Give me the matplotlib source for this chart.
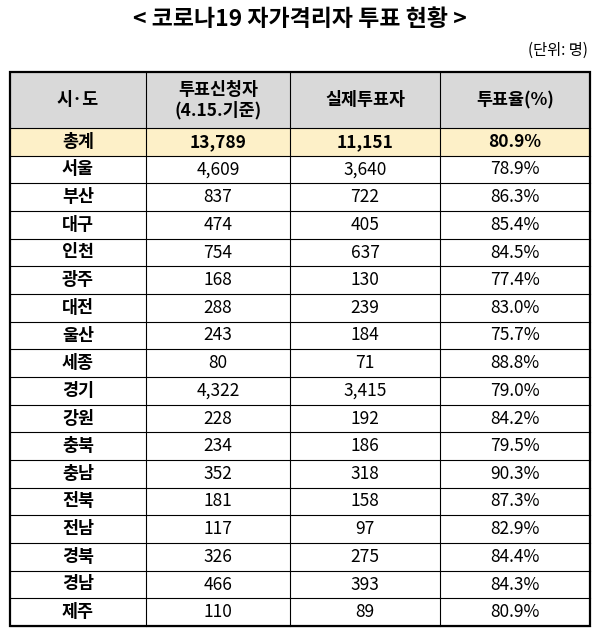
import matplotlib
matplotlib.use("Agg")
import matplotlib.pyplot as plt
from matplotlib.patches import Rectangle

plt.rcParams['font.family'] = ['Noto Sans CJK KR', 'DejaVu Sans']

title = "< 코로나19 자가격리자 투표 현황 >"
unit = "(단위: 명)"
headers = ["시·도", "투표신청자\n(4.15.기준)", "실제투표자", "투표율(%)"]
regions = ["총계", "서울", "부산", "대구", "인천", "광주", "대전", "울산", "세종", "경기",
           "강원", "충북", "충남", "전북", "전남", "경북", "경남", "제주"]
applied = ["13,789", "4,609", "837", "474", "754", "168", "288", "243", "80", "4,322",
           "228", "234", "352", "181", "117", "326", "466", "110"]
voted = ["11,151", "3,640", "722", "405", "637", "130", "239", "184", "71", "3,415",
         "192", "186", "318", "158", "97", "275", "393", "89"]
rate = ["80.9%", "78.9%", "86.3%", "85.4%", "84.5%", "77.4%", "83.0%", "75.7%", "88.8%",
        "79.0%", "84.2%", "79.5%", "90.3%", "87.3%", "82.9%", "84.4%", "84.3%", "80.9%"]

fig = plt.figure(figsize=(6, 6.3), dpi=100)
ax = fig.add_axes([0, 0, 1, 1])
ax.set_xlim(0, 600); ax.set_ylim(630, 0); ax.axis('off')

cols = [10, 146, 290, 440, 590]
top, hbot, bot = 72, 128, 626
n = len(regions)
rh = (bot - hbot) / n

ax.text(300, 20, title, ha='center', va='center', fontsize=16.5, fontweight='bold')
ax.text(588, 50, unit, ha='right', va='center', fontsize=11)

ax.add_patch(Rectangle((cols[0], top), cols[-1]-cols[0], hbot-top, fc='#d9d9d9', ec='none'))
ax.add_patch(Rectangle((cols[0], hbot), cols[-1]-cols[0], rh, fc='#fdf0c8', ec='none'))

for i, h in enumerate(headers):
    ax.text((cols[i]+cols[i+1])/2, (top+hbot)/2, h, ha='center', va='center',
            fontsize=12.5, fontweight='bold', linespacing=1.15)

for r in range(n):
    yc = hbot + rh*(r+0.5)
    vals = [regions[r], applied[r], voted[r], rate[r]]
    for i, v in enumerate(vals):
        bold = (i == 0) or (r == 0)
        ax.text((cols[i]+cols[i+1])/2, yc, v, ha='center', va='center',
                fontsize=12.5, fontweight='bold' if bold else 'normal')

for r in range(n+1):
    y = hbot + rh*r
    ax.plot([cols[0], cols[-1]], [y, y], color='black', lw=0.8)
for x in cols[1:-1]:
    ax.plot([x, x], [top, bot], color='black', lw=0.8)
ax.add_patch(Rectangle((cols[0], top), cols[-1]-cols[0], bot-top, fc='none', ec='black', lw=1.6))

fig.savefig("out.png", dpi=100)
